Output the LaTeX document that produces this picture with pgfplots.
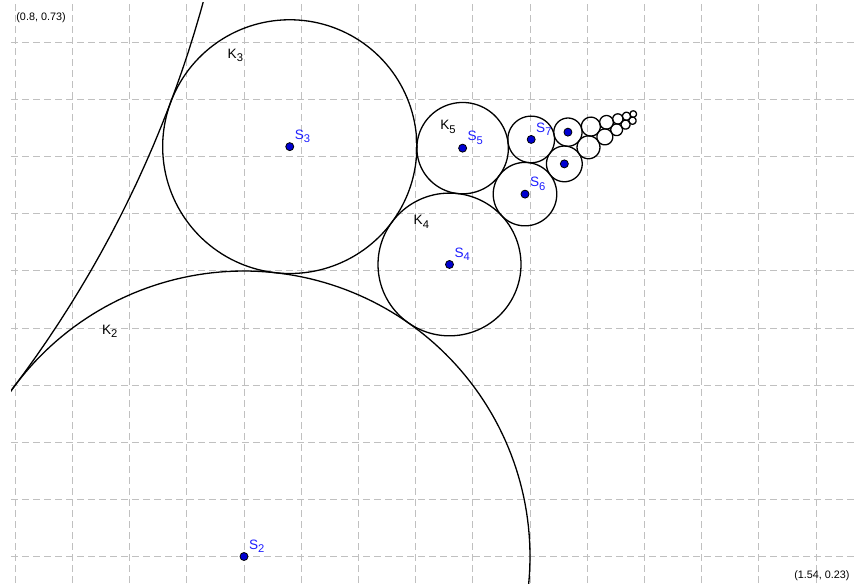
\documentclass[border=0pt]{standalone}
\usepackage{fontspec}
\setmainfont{Liberation Sans}
\usepackage{pgfplots}
\pgfplotsset{compat=1.18}
\definecolor{gridc}{RGB}{192,192,192}
\definecolor{ptblue}{RGB}{0,0,210}
\definecolor{lblblue}{RGB}{30,30,255}
\newcommand{\lbl}{\fontsize{6.8}{7.5}\selectfont}
\newcommand{\crn}{\fontsize{5.4}{6.5}\selectfont}
\newcommand{\sub}[1]{\raisebox{-1.6pt}{\fontsize{5.6}{6}\selectfont #1}}
\begin{document}
\begin{tikzpicture}
\begin{axis}[name=ax, scale only axis, width=421.5pt, height=290pt,
  xmin=0.79633, xmax=1.53322, ymin=0.22680, ymax=0.73468,
  axis line style={draw=none}, major tick length=0pt,
  xtick={0.8,0.85,0.9,0.95,1.0,1.05,1.1,1.15,1.2,1.25,1.3,1.35,1.4,1.45,1.5},
  ytick={0.25,0.3,0.35,0.4,0.45,0.5,0.55,0.6,0.65,0.7},
  xticklabels={}, yticklabels={},
  grid=major, grid style={gridc, line width=0.5pt, dash pattern=on 3.5pt off 2pt},
  every axis plot/.append style={black, line width=0.65pt, no marks},
]
% K1 (radius 1, centre (0,1)) -- visible arc only
\addplot[domain=-40:-12, samples=80] ({0+1*cos(x)},{1+1*sin(x)});
% K2 ... K19: centre (cx,cy), radius r = 1/n^2
\addplot[domain=0:360, samples=240] ({1+0.25*cos(x)},{0.25+0.25*sin(x)});
\addplot[domain=0:360, samples=160] ({1.04+0.111111*cos(x)},{0.608889+0.111111*sin(x)});
\addplot[domain=0:360, samples=120] ({1.179629+0.0625*cos(x)},{0.505715+0.0625*sin(x)});
\addplot[domain=0:360, samples=100] ({1.191106+0.04*cos(x)},{0.607572+0.04*sin(x)});
\addplot[domain=0:360, samples=90] ({1.245631+0.0277778*cos(x)},{0.567311+0.0277778*sin(x)});
\addplot[domain=0:360, samples=80] ({1.251032+0.0204082*cos(x)},{0.615195+0.0204082*sin(x)});
\addplot[domain=0:360, samples=70] ({1.280019+0.015625*cos(x)},{0.593792+0.015625*sin(x)});
\addplot[domain=0:360, samples=60] ({1.283156+0.0123457*cos(x)},{0.621586+0.0123457*sin(x)});
\addplot[domain=0:360, samples=60] ({1.301133+0.01*cos(x)},{0.608313+0.01*sin(x)});
\addplot[domain=0:360, samples=50] ({1.303182+0.00826446*cos(x)},{0.626463+0.00826446*sin(x)});
\addplot[domain=0:360, samples=50] ({1.315417+0.00694444*cos(x)},{0.617428+0.00694444*sin(x)});
\addplot[domain=0:360, samples=40] ({1.316859+0.00591716*cos(x)},{0.630208+0.00591716*sin(x)});
\addplot[domain=0:360, samples=40] ({1.325724+0.00510204*cos(x)},{0.623664+0.00510204*sin(x)});
\addplot[domain=0:360, samples=40] ({1.326794+0.00444444*cos(x)},{0.633150+0.00444444*sin(x)});
\addplot[domain=0:360, samples=36] ({1.333512+0.00390625*cos(x)},{0.628190+0.00390625*sin(x)});
\addplot[domain=0:360, samples=36] ({1.334338+0.00346021*cos(x)},{0.635510+0.00346021*sin(x)});
\addplot[domain=0:360, samples=36] ({1.339603+0.00308642*cos(x)},{0.631624+0.00308642*sin(x)});
\addplot[domain=0:360, samples=36] ({1.340261+0.00277008*cos(x)},{0.637441+0.00277008*sin(x)});
% centres S2 ... S9
\addplot[only marks, mark=*, mark size=2pt, mark options={fill=ptblue, draw=black, line width=0.4pt}]
  coordinates {(1,0.25) (1.04,0.608889) (1.179629,0.505715) (1.191106,0.607572)
               (1.245631,0.567311) (1.251032,0.615195) (1.280019,0.593792) (1.283156,0.621586)};
% labels of the centres
\begin{scope}[every node/.style={lblblue, anchor=base west, font=\lbl, xshift=2.3pt, yshift=3.6pt, inner sep=0pt}]
\node at (axis cs:1,0.25) {S\sub{2}};
\node at (axis cs:1.04,0.608889) {S\sub{3}};
\node at (axis cs:1.179629,0.505715) {S\sub{4}};
\node at (axis cs:1.191106,0.607572) {S\sub{5}};
\node at (axis cs:1.245631,0.567311) {S\sub{6}};
\node at (axis cs:1.251032,0.615195) {S\sub{7}};
\end{scope}
% labels of the circles
\begin{scope}[every node/.style={black, anchor=base west, font=\lbl, inner sep=0pt}]
\node at (axis cs:0.87561,0.44483) {K\sub{2}};
\node at (axis cs:0.98540,0.68625) {K\sub{3}};
\node at (axis cs:1.14799,0.54028) {K\sub{4}};
\node at (axis cs:1.17133,0.62347) {K\sub{5}};
\end{scope}
% corner coordinates
\node[anchor=west, font=\crn, inner sep=0pt] at (axis cs:0.8007,0.72215) {(0.8, 0.73)};
\node[anchor=east, font=\crn, inner sep=0pt] at (axis cs:1.52972,0.23292) {(1.54, 0.23)};
\end{axis}
\pgfresetboundingbox
\path[use as bounding box] ([xshift=-5.5pt]ax.south west) rectangle ([yshift=1.5pt]ax.north east);
\end{tikzpicture}
\end{document}
